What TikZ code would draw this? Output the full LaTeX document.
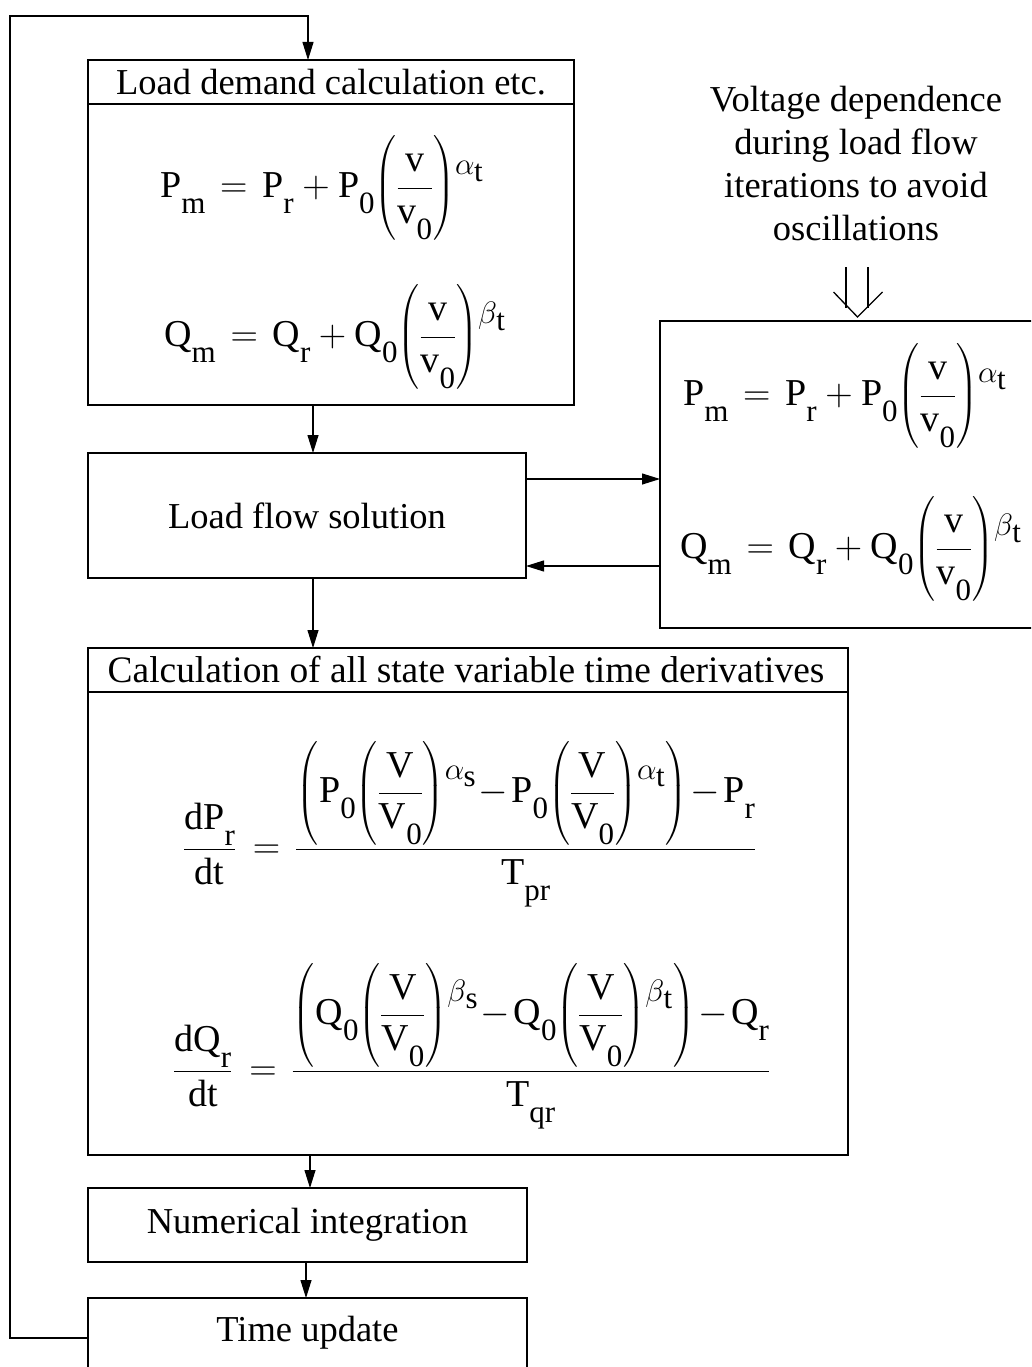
\RequirePackage{fix-cm}
\documentclass[tikz,border=0pt]{standalone}
\usepackage{amsmath}
\usepackage{fontspec}
\setmainfont{Liberation Serif}
\usetikzlibrary{arrows.meta}
\newcommand\lsub[1]{\raisebox{-0.42em}{\fontsize{31}{31}\selectfont$\mathrm{#1}$}}
\newcommand\supx[2]{\raisebox{0.6em}{\fontsize{31}{31}\selectfont$#1$\kern-0.02em\raisebox{-0.22em}{$\mathrm{#2}$}}}
\newcommand\vfracx{{\left(\dfrac{\mathrm{v}}{\mathrm{v}\lsub{0}}\right)}}
\newcommand\Vfracx{{\left(\dfrac{\mathrm{V}}{\mathrm{V}\lsub{0}}\right)}}
\newcommand\Vphx{\vphantom{\dfrac{\mathrm{V}}{\mathrm{V}\lsub{0}}}}
\newcommand\bigopx{\mathopen{\left(\Vphx\right.}}
\newcommand\bigclx{\mathclose{\left.\Vphx\right)}}
\newcommand\eqsp{\mkern2mu}
\newcommand\eqPm{$\mathrm{P}\lsub{m}\eqsp=\eqsp\mathrm{P}\lsub{r}+\mathrm{P}\lsub{0}\vfracx\supx{\alpha}{t}$}
\newcommand\eqQm{$\mathrm{Q}\lsub{m}\eqsp=\eqsp\mathrm{Q}\lsub{r}+\mathrm{Q}\lsub{0}\vfracx\supx{\beta}{t}$}
\begin{document}
\begin{tikzpicture}[x=1pt,y=-1pt,
  box/.style={draw,line width=2.2pt,inner sep=0pt,outer sep=0pt},
  conn/.style={line width=1.1pt,-{Triangle[length=18pt,width=11pt]}},
  sep/.style={line width=1.4pt},
  txt/.style={font=\fontsize{36.5}{43}\selectfont,inner sep=0pt,align=center},
  eq/.style={font=\fontsize{38}{44}\selectfont,inner sep=0pt,anchor=base west}]

\useasboundingbox (0,0) rectangle (1031,1367);
\clip (0,0) rectangle (1031,1367);

% boxes
\node[box,minimum width=486pt,minimum height=345pt] (ld) at (331,232.5) {};
\draw[sep] ([yshift=-44pt]ld.north west) -- ([yshift=-44pt]ld.north east);
\node[txt] (ldt) at (331,82) {Load demand calculation etc.};
\node[eq] (ldp) at (160,197.5) {\eqPm};
\node[eq] (ldq) at (164,346.5) {\eqQm};

\node[box,txt,minimum width=438pt,minimum height=125pt] (lf) at (307,515.5) {Load flow solution};

\node[box,minimum width=395pt,minimum height=307pt] (rb) at (857.5,474.5) {};
\node[eq] (rbp) at (683,405.5) {\eqPm};
\node[eq] (rbq) at (680,558.5) {\eqQm};

\node[txt] (note) at (856,164) {Voltage dependence\\during load flow\\iterations to avoid\\oscillations};

\node[box,minimum width=760pt,minimum height=507pt] (cb) at (468,901.5) {};
\draw[sep] ([yshift=-44pt]cb.north west) -- ([yshift=-44pt]cb.north east);
\node[txt,font=\fontsize{37.4}{43}\selectfont] (cbt) at (466,670) {Calculation of all state variable time derivatives};
\node[eq] (cbp) at (183,858.5) {$\medmuskip=1.5mu\dfrac{\mathrm{dP}\lsub{r}}{\mathrm{dt}}\mkern3mu=\mkern2mu\dfrac{\bigopx\mathrm{P}\lsub{0}\Vfracx\supx{\alpha}{s}-\mathrm{P}\lsub{0}\Vfracx\supx{\alpha}{t}\bigclx-\mathrm{P}\lsub{r}}{\mathrm{T}\lsub{pr}}$};
\node[eq] (cbq) at (173,1080.5) {$\medmuskip=1.5mu\dfrac{\mathrm{dQ}\lsub{r}}{\mathrm{dt}}\mkern3mu=\mkern2mu\dfrac{\bigopx\mathrm{Q}\lsub{0}\Vfracx\supx{\beta}{s}-\mathrm{Q}\lsub{0}\Vfracx\supx{\beta}{t}\bigclx-\mathrm{Q}\lsub{r}}{\mathrm{T}\lsub{qr}}$};

\node[box,txt,minimum width=439pt,minimum height=74pt] (ni) at (307.5,1225) {Numerical integration};
\node[box,minimum width=439pt,minimum height=80pt] (tu) at (307.5,1338) {};
\node[txt] (tut) at (307.5,1333) {Time update};

% connectors
\coordinate (c1) at (313,0);
\coordinate (c3) at (310,0);
\coordinate (c4) at (306,0);
\draw[conn] (c1 |- ld.south) -- (c1 |- lf.north);
\draw[conn] (c1 |- lf.south) -- (c1 |- cb.north);
\draw[conn] (c3 |- cb.south) -- (c3 |- ni.north);
\draw[conn] (c4 |- ni.south) -- (c4 |- tu.north);

\coordinate (h1) at (0,479);
\coordinate (h2) at (0,566);
\draw[conn] (h1 -| lf.east) -- (h1 -| rb.west);
\draw[conn] (h2 -| rb.west) -- (h2 -| lf.east);

\coordinate (fbc) at (10,16);
\coordinate (ldin) at (308,60);
\draw[conn] (tu.west) -- (tu.west -| fbc) -- (fbc) -- (fbc -| ldin) -- (ldin);

% open double arrow
\draw[line width=1.3pt] (rb.north) ++(-11.5,-54) -- ++(0,41);
\draw[line width=1.3pt] (rb.north) ++(10.5,-54) -- ++(0,41);
\draw[line width=1.3pt,line join=miter] (rb.north) ++(-24,-29) -- ++(24,25) -- ++(25,-25);
\end{tikzpicture}
\end{document}
